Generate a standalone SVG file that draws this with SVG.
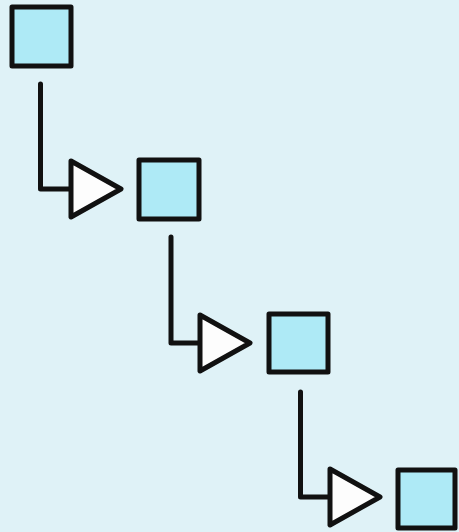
<svg xmlns="http://www.w3.org/2000/svg" width="459" height="532" viewBox="0 0 459 532">
  <style>
    .node { fill: #aeeaf6; stroke: #111; stroke-width: 5; stroke-linejoin: round; }
    .edge { fill: none; stroke: #111; stroke-width: 5; stroke-linejoin: round; stroke-linecap: round; }
  </style>
  <defs>
    <marker id="tri" markerUnits="userSpaceOnUse" viewBox="-6 -36 64 72" markerWidth="64" markerHeight="72" refX="0" refY="0" orient="auto" overflow="visible">
      <path d="M0,-28 L50,0 L0,28 Z" fill="#fdfdfd" stroke="#111" stroke-width="5" stroke-linejoin="round"/>
    </marker>
  </defs>
  <rect width="459" height="532" fill="#dff2f7"/>
  <g id="connectors">
    <path class="edge" d="M40.5,84 V189 H71" marker-end="url(#tri)"/>
    <path class="edge" d="M171,237 V343 H200" marker-end="url(#tri)"/>
    <path class="edge" d="M300.5,392 V497 H330" marker-end="url(#tri)"/>
  </g>
  <g id="node1"><rect class="node" x="12" y="7" width="59" height="59"/></g>
  <g id="node2"><rect class="node" x="139" y="160" width="60" height="59"/></g>
  <g id="node3"><rect class="node" x="269" y="314" width="59" height="58"/></g>
  <g id="node4"><rect class="node" x="398" y="470" width="57" height="58"/></g>
</svg>
